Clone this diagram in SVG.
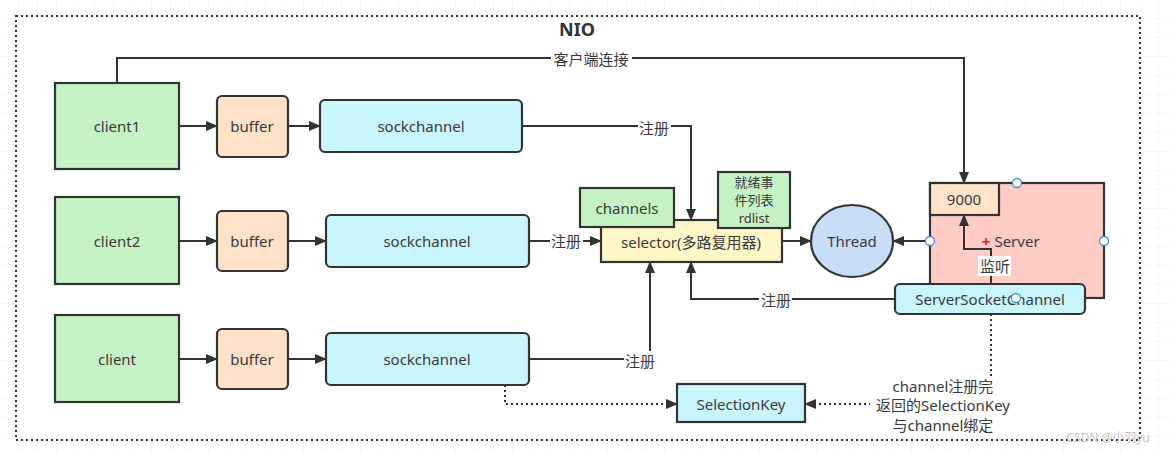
<svg xmlns="http://www.w3.org/2000/svg" width="1170" height="453" viewBox="0 0 1170 453">
<defs>
<pattern id="grid" width="19" height="19" patternUnits="userSpaceOnUse">
<path d="M19 0V19H0" fill="none" stroke="#efefef" stroke-width="1"/>
</pattern>
<marker id="arr" markerWidth="12" markerHeight="10" refX="11" refY="5" orient="auto" markerUnits="userSpaceOnUse">
<path d="M0,0 L12,5 L0,10 Z" fill="#333"/>
</marker>
<style>
text{font-family:"Noto Sans","Noto Sans CJK SC",sans-serif;font-size:15px;fill:#3a3a3a;text-anchor:middle;dominant-baseline:central}
.box{stroke:#333;stroke-width:2.2}
.green{fill:#c6f3c6}
.peach{fill:#ffe2c8}
.cyan{fill:#c9f6fc}
.yellow{fill:#fff7c6}
.blue{fill:#c8ddf7}
.pink{fill:#ffccc6}
.edge{fill:none;stroke:#333;stroke-width:2}
.dot{fill:none;stroke:#333;stroke-width:2;stroke-dasharray:2 3}
.lbl{fill:#fff}
.handle{fill:#fff;stroke:#3b8fe3;stroke-width:1.3}
.small{font-size:13px}
</style>
</defs>
<rect width="1170" height="453" fill="#fff"/>
<rect width="1170" height="453" fill="url(#grid)"/>
<rect x="16" y="16" width="1124" height="424" fill="#fff"/>
<rect x="16" y="16" width="1124" height="424" class="dot"/>
<text x="577" y="29" style="font-weight:bold;font-size:18px;fill:#333">NIO</text>

<g id="connectors">
<path class="edge" d="M179,126H217" marker-end="url(#arr)"/>
<path class="edge" d="M288,126H320" marker-end="url(#arr)"/>
<path class="edge" d="M179,241H217" marker-end="url(#arr)"/>
<path class="edge" d="M288,241H326" marker-end="url(#arr)"/>
<path class="edge" d="M179,359H217" marker-end="url(#arr)"/>
<path class="edge" d="M288,359H326" marker-end="url(#arr)"/>
<path class="edge" d="M522,126H691V220" marker-end="url(#arr)"/>
<rect class="lbl" x="638" y="118" width="33" height="20"/>
<text x="654" y="128">注册</text>
<path class="edge" d="M529,241H601" marker-end="url(#arr)"/>
<rect class="lbl" x="550" y="231" width="33" height="20"/>
<text x="566" y="241">注册</text>
<path class="edge" d="M529,359H650V262" marker-end="url(#arr)"/>
<rect class="lbl" x="624" y="351" width="33" height="20"/>
<text x="640" y="361">注册</text>
<path class="edge" d="M895,299H691V262" marker-end="url(#arr)"/>
<rect class="lbl" x="759" y="290" width="33" height="20"/>
<text x="776" y="300">注册</text>
<path class="edge" d="M782,241H811" marker-end="url(#arr)"/>
<path class="edge" d="M930,241H893" marker-end="url(#arr)"/>
<path class="edge" d="M117,83V58H964V183" marker-end="url(#arr)"/>
<rect class="lbl" x="551" y="49" width="81" height="20"/>
<text x="591" y="59">客户端连接</text>
<path class="dot" d="M505,385V404H677" marker-end="url(#arr)"/>
<path class="dot" d="M991,314V404H805" marker-end="url(#arr)"/>
<rect class="lbl" x="870" y="376" width="148" height="58"/>
<text x="943" y="386">channel注册完</text>
<text x="943" y="405">返回的SelectionKey</text>
<text x="943" y="425">与channel绑定</text>
</g>

<g id="client1"><rect class="box green" x="55" y="83" width="124" height="86"/><text x="117" y="126">client1</text></g>
<g id="buffer1"><rect class="box peach" x="217" y="96" width="71" height="61" rx="5"/><text x="252" y="126">buffer</text></g>
<g id="sockchannel1"><rect class="box cyan" x="320" y="100" width="202" height="52" rx="5"/><text x="421" y="126">sockchannel</text></g>

<g id="client2"><rect class="box green" x="55" y="197" width="124" height="87"/><text x="117" y="241">client2</text></g>
<g id="buffer2"><rect class="box peach" x="217" y="211" width="71" height="60" rx="5"/><text x="252" y="241">buffer</text></g>
<g id="sockchannel2"><rect class="box cyan" x="326" y="215" width="203" height="52" rx="5"/><text x="427" y="241">sockchannel</text></g>

<g id="client"><rect class="box green" x="55" y="315" width="124" height="87"/><text x="117" y="359">client</text></g>
<g id="buffer3"><rect class="box peach" x="217" y="329" width="71" height="60" rx="5"/><text x="252" y="359">buffer</text></g>
<g id="sockchannel3"><rect class="box cyan" x="326" y="333" width="203" height="52" rx="5"/><text x="427" y="359">sockchannel</text></g>

<g id="selector"><rect class="box yellow" x="601" y="220" width="181" height="42"/><text x="691" y="242">selector(多路复用器)</text></g>
<g id="channels"><rect class="box green" x="580" y="188" width="94" height="39"/><text x="627" y="208">channels</text></g>
<g id="rdlist"><rect class="box green" x="718" y="172" width="72" height="56"/><text class="small" x="754" y="182">就绪事</text><text class="small" x="754" y="200">件列表</text><text class="small" x="754" y="218">rdlist</text></g>

<g id="thread"><ellipse class="box blue" cx="852" cy="241" rx="41" ry="36"/><text x="852" y="241">Thread</text></g>

<g id="server">
<rect class="box pink" x="930" y="183" width="174" height="115"/>
<text x="986" y="241" style="fill:#e0202a;font-weight:bold">+</text>
<text x="1017" y="241">Server</text>
</g>
<g id="port9000"><rect class="box peach" x="930" y="183" width="69" height="32"/><text x="964" y="199">9000</text></g>
<g id="listen-edge">
<path class="edge" d="M991,284V249H964V215" marker-end="url(#arr)"/>
<rect class="lbl" x="978" y="256" width="33" height="20"/>
<text x="995" y="266">监听</text>
</g>
<g id="serversocketchannel"><rect class="box cyan" x="895" y="284" width="190" height="30" rx="5"/><text x="990" y="299">ServerSocketChannel</text></g>
<g id="selectionkey"><rect class="box cyan" x="677" y="384" width="128" height="38"/><text x="741" y="404">SelectionKey</text></g>

<g id="handles">
<circle class="handle" cx="930" cy="241" r="4.5"/>
<circle class="handle" cx="1104" cy="241" r="4.5"/>
<circle class="handle" cx="1017" cy="183" r="4.5"/>
<circle class="handle" cx="1016" cy="298" r="4.5"/>
</g>
<text x="1108" y="437" style="font-size:12px;fill:#c4c4c4">CSDN @小羽yu</text>
</svg>
